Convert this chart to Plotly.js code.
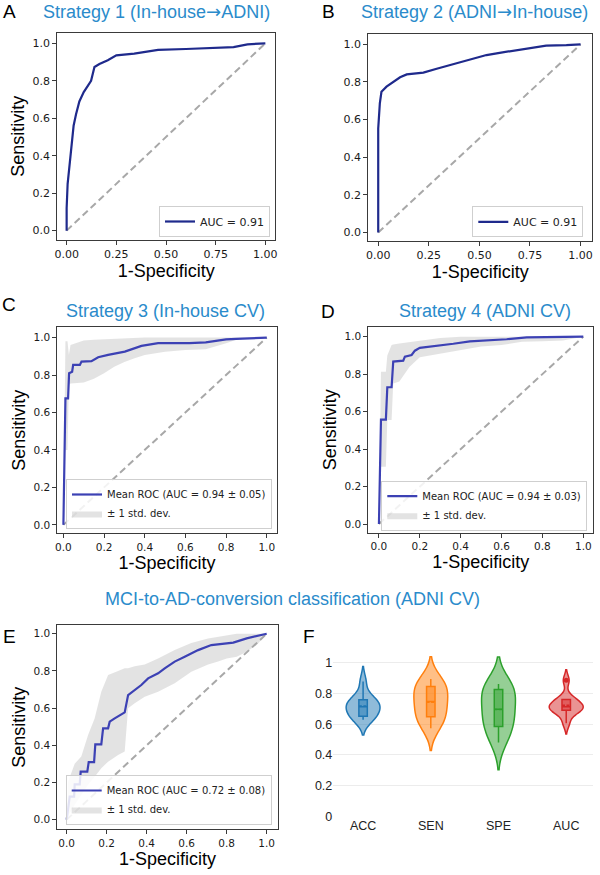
<!DOCTYPE html>
<html lang="en">
<head>
<meta charset="UTF-8" />
<title>ROC curves and metric violins</title>
<script src="https://cdn.plot.ly/plotly-3.0.1.min.js"></script>
<style>html,body{margin:0;padding:0;background:#fff;}</style>
</head>
<body>
<div id="chart" style="width:600px;height:875px;"></div>
<script>
// chance diagonal
const chance = [0, 1];

// A: Strategy 1 (In-house -> ADNI)
const fprA = [0, 0, 0.005, 0.01, 0.014, 0.022, 0.03, 0.035, 0.047, 0.064, 0.086, 0.106, 0.123, 0.14, 0.165, 0.207, 0.25, 0.34, 0.46, 0.6, 0.7, 0.84, 0.91, 1];
const tprA = [0, 0.12, 0.25, 0.3, 0.33, 0.42, 0.5, 0.56, 0.62, 0.69, 0.74, 0.77, 0.8, 0.874, 0.89, 0.91, 0.936, 0.945, 0.965, 0.97, 0.975, 0.98, 0.995, 1];

// B: Strategy 2 (ADNI -> In-house)
const fprB = [0, 0, 0.008, 0.016, 0.041, 0.074, 0.108, 0.141, 0.223, 0.289, 0.355, 0.45, 0.535, 0.6, 0.7, 0.766, 0.83, 0.93, 1];
const tprB = [0, 0.553, 0.686, 0.748, 0.775, 0.8, 0.825, 0.84, 0.85, 0.87, 0.89, 0.92, 0.943, 0.955, 0.97, 0.982, 0.993, 0.996, 1];

// C: Strategy 3 (In-house CV)
const fprC = [0, 0.01, 0.023, 0.028, 0.043, 0.048, 0.081, 0.089, 0.138, 0.171, 0.22, 0.302, 0.384, 0.466, 0.55, 0.62, 0.7, 0.75, 0.8, 0.85, 0.9, 0.95, 1];
const tprC = [0, 0.676, 0.676, 0.81, 0.818, 0.854, 0.854, 0.872, 0.874, 0.895, 0.908, 0.925, 0.956, 0.97, 0.97, 0.97, 0.975, 0.984, 0.99, 0.993, 0.996, 1, 1];
const bandFprC = [0, 0.01, 0.02, 0.027, 0.035, 0.06, 0.1, 0.15, 0.2, 0.25, 0.3, 0.35, 0.4, 0.5, 0.6, 0.7, 0.75, 0.8, 0.85, 0.9, 1];
const upperC = [0, 0.98, 0.98, 0.908, 0.96, 0.97, 0.985, 0.988, 0.99, 0.992, 0.995, 0.998, 1, 1, 1, 1, 1, 1, 1, 1, 1];
const lowerC = [0, 0.4, 0.4, 0.748, 0.755, 0.758, 0.76, 0.78, 0.81, 0.845, 0.87, 0.89, 0.907, 0.925, 0.934, 0.938, 0.952, 0.97, 0.988, 0.996, 1];

// D: Strategy 4 (ADNI CV)
const fprD = [0, 0.01, 0.034, 0.041, 0.062, 0.07, 0.119, 0.127, 0.16, 0.176, 0.2, 0.282, 0.364, 0.445, 0.527, 0.625, 0.723, 0.918, 1];
const tprD = [0, 0.557, 0.557, 0.73, 0.73, 0.867, 0.872, 0.893, 0.902, 0.925, 0.94, 0.95, 0.962, 0.975, 0.979, 0.986, 0.996, 0.996, 1];
const bandFprD = [0, 0.01, 0.034, 0.041, 0.062, 0.07, 0.1, 0.15, 0.2, 0.3, 0.4, 0.5, 0.6, 0.7, 0.8, 0.9, 1];
const upperD = [0, 0.813, 0.813, 0.9, 0.955, 0.958, 0.964, 0.972, 0.98, 0.993, 1, 1, 1, 1, 1, 1, 1];
const lowerD = [0, 0.306, 0.306, 0.555, 0.555, 0.75, 0.76, 0.84, 0.89, 0.91, 0.93, 0.947, 0.955, 0.973, 0.975, 0.98, 1];

// E: MCI-to-AD conversion (ADNI CV)
const fprE = [0, 0.015, 0.037, 0.04, 0.065, 0.07, 0.103, 0.11, 0.137, 0.143, 0.173, 0.182, 0.207, 0.215, 0.24, 0.265, 0.29, 0.307, 0.34, 0.373, 0.407, 0.457, 0.49, 0.54, 0.59, 0.657, 0.723, 0.833, 0.9, 0.95, 1];
const tprE = [0, 0.124, 0.124, 0.19, 0.19, 0.258, 0.258, 0.309, 0.309, 0.405, 0.405, 0.491, 0.491, 0.527, 0.545, 0.563, 0.577, 0.67, 0.697, 0.724, 0.76, 0.787, 0.814, 0.85, 0.876, 0.912, 0.939, 0.952, 0.975, 0.987, 1];
const bandFprE = [0, 0.007, 0.04, 0.073, 0.107, 0.14, 0.173, 0.207, 0.257, 0.29, 0.307, 0.34, 0.39, 0.457, 0.54, 0.623, 0.707, 0.757, 0.8, 0.85, 0.9, 0.95, 1];
const upperE = [0, 0.204, 0.3, 0.34, 0.455, 0.545, 0.688, 0.778, 0.8, 0.814, 0.815, 0.825, 0.835, 0.867, 0.912, 0.95, 0.975, 0.985, 0.993, 1, 1, 1, 1];
const lowerE = [0, 0.02, 0.08, 0.133, 0.187, 0.231, 0.276, 0.312, 0.348, 0.366, 0.599, 0.626, 0.661, 0.688, 0.733, 0.796, 0.835, 0.85, 0.867, 0.876, 0.903, 0.94, 1];

// F: fold metrics
const metrics = ['ACC', 'SEN', 'SPE', 'AUC'];
const accFolds = [0.628, 0.645, 0.652, 0.69, 0.705, 0.722, 0.74, 0.758, 0.765, 0.877];
const senFolds = [0.574, 0.62, 0.648, 0.69, 0.73, 0.765, 0.8, 0.845, 0.86, 0.894];
const speFolds = [0.48, 0.55, 0.585, 0.64, 0.68, 0.715, 0.78, 0.825, 0.845, 0.861];
const aucFolds = [0.606, 0.672, 0.69, 0.7, 0.71, 0.715, 0.73, 0.76, 0.765, 0.885];
const metricColors = ['#1f77b4', '#ff7f0e', '#2ca02c', '#d62728'];

const tickFont = 'DejaVu Sans, sans-serif';
const labelFont = 'Liberation Sans, Arial, sans-serif';
const titleBlue = '#2a8bcb';
const navy = '#1f2a8c';
const meanBlue = '#3c41b4';
const arrow = '<span style="font-family:DejaVu Sans">→</span>';

function diag(xa, ya) {
  return {x: chance, y: chance, xaxis: xa, yaxis: ya, mode: 'lines',
    line: {color: '#a8a8a8', width: 2, dash: '7px,4px'}, showlegend: false, hoverinfo: 'skip'};
}

function band(xa, ya, bx, lo, hi, leg) {
  return [
    {x: bx, y: lo, xaxis: xa, yaxis: ya, mode: 'lines', line: {width: 0, color: 'rgba(0,0,0,0)'},
      showlegend: false, hoverinfo: 'skip'},
    {x: bx, y: hi, xaxis: xa, yaxis: ya, mode: 'lines', fill: 'tonexty',
      fillcolor: 'rgba(128,128,128,0.22)', line: {width: 0, color: 'rgba(0,0,0,0)'},
      name: '± 1 std. dev.', legend: leg}
  ];
}

function curve(xa, ya, x, y, color, name, leg) {
  return {x, y, xaxis: xa, yaxis: ya, mode: 'lines', line: {color, width: 2.2}, name, legend: leg};
}

const data = [
  diag('x', 'y'),
  curve('x', 'y', fprA, tprA, navy, 'AUC = 0.91', 'legend'),
  diag('x2', 'y2'),
  curve('x2', 'y2', fprB, tprB, navy, 'AUC = 0.91', 'legend2'),
  ...band('x3', 'y3', bandFprC, lowerC, upperC, 'legend3'),
  diag('x3', 'y3'),
  curve('x3', 'y3', fprC, tprC, meanBlue, 'Mean ROC (AUC = 0.94 ± 0.05)', 'legend3'),
  ...band('x4', 'y4', bandFprD, lowerD, upperD, 'legend4'),
  diag('x4', 'y4'),
  curve('x4', 'y4', fprD, tprD, meanBlue, 'Mean ROC (AUC = 0.94 ± 0.03)', 'legend4'),
  ...band('x5', 'y5', bandFprE, lowerE, upperE, 'legend5'),
  diag('x5', 'y5'),
  curve('x5', 'y5', fprE, tprE, meanBlue, 'Mean ROC (AUC = 0.72 ± 0.08)', 'legend5')
];

[accFolds, senFolds, speFolds, aucFolds].forEach((vals, i) => {
  data.push({
    type: 'violin', y: vals, name: metrics[i], xaxis: 'x6', yaxis: 'y6',
    width: 0.5, line: {color: metricColors[i], width: 1.5},
    box: {visible: true, width: 0.25}, meanline: {visible: true},
    points: 'outliers', pointpos: 0, jitter: 0, marker: {size: 5, color: metricColors[i]},
    showlegend: false
  });
});

function frameAxis(domain, range, dtick, fmt, size, title, standoff, anchor) {
  return {
    domain, range, dtick, tick0: 0, tickformat: fmt, anchor,
    showline: true, mirror: true, linecolor: '#3a3a3a', linewidth: 1,
    ticks: 'outside', ticklen: 4, tickcolor: '#3a3a3a', tickwidth: 1,
    showgrid: false, zeroline: false,
    tickfont: {family: tickFont, size, color: '#1a1a1a'},
    title: {text: title, font: {family: labelFont, size: 18, color: '#000'}, standoff}
  };
}

function legendBox(x, y, size) {
  return {x, y, xanchor: 'right', yanchor: 'bottom', bgcolor: 'rgba(255,255,255,0.85)',
    bordercolor: '#cfcfcf', borderwidth: 1, itemwidth: 30, tracegroupgap: 0,
    traceorder: 'reversed', font: {family: tickFont, size, color: '#222'}};
}

const W = 600, H = 875;
const px = v => v / W;
const py = v => 1 - v / H;

const annotations = [];
function label(text, x, y, size, color) {
  annotations.push({text, x: px(x), y: py(y), xref: 'paper', yref: 'paper', showarrow: false,
    xanchor: 'center', yanchor: 'middle', font: {family: labelFont, size, color}});
}
label('A', 9, 12, 19, '#000');
label('B', 328, 12, 19, '#000');
label('C', 9, 305, 19, '#000');
label('D', 328, 311, 19, '#000');
label('E', 9, 636, 19, '#000');
label('F', 309, 636, 19, '#000');
label('Strategy 1 (In-house' + arrow + 'ADNI)', 156, 12, 18, titleBlue);
label('Strategy 2 (ADNI' + arrow + 'In-house)', 474, 12, 18, titleBlue);
label('Strategy 3 (In-house CV)', 165, 311, 18, titleBlue);
label('Strategy 4 (ADNI CV)', 485, 311, 18, titleBlue);
label('MCI-to-AD-conversion classification (ADNI CV)', 292, 599, 18, titleBlue);

const layout = {
  width: W, height: H, margin: {l: 0, r: 0, t: 0, b: 0},
  paper_bgcolor: '#fff', plot_bgcolor: '#fff',
  violinmode: 'overlay',
  xaxis: frameAxis([px(57.3), px(275.3)], [-0.047, 1.05], 0.25, '.2f', 11, '1-Specificity', 4, 'y'),
  yaxis: frameAxis([py(240), py(32.7)], [-0.05, 1.057], 0.2, '.1f', 11, 'Sensitivity', 3, 'x'),
  xaxis2: frameAxis([px(368.3), px(592.3)], [-0.049, 1.058], 0.25, '.2f', 11, '1-Specificity', 4, 'y2'),
  yaxis2: frameAxis([py(240.7), py(34)], [-0.044, 1.055], 0.2, '.1f', 11, '', 3, 'x2'),
  xaxis3: frameAxis([px(57.3), px(276.7)], [-0.03, 1.049], 0.2, '.1f', 10.5, '1-Specificity', 4, 'y3'),
  yaxis3: frameAxis([py(533.3), py(327.3)], [-0.045, 1.055], 0.2, '.1f', 10.5, 'Sensitivity', 3, 'x3'),
  xaxis4: frameAxis([px(368.3), px(593.3)], [-0.052, 1.049], 0.2, '.1f', 10.5, '1-Specificity', 4, 'y4'),
  yaxis4: frameAxis([py(532.7), py(326.7)], [-0.046, 1.053], 0.2, '.1f', 10.5, 'Sensitivity', 3, 'x4'),
  xaxis5: frameAxis([px(57.3), px(277.7)], [-0.047, 1.055], 0.2, '.1f', 10.5, '1-Specificity', 4, 'y5'),
  yaxis5: frameAxis([py(829.3), py(625)], [-0.052, 1.047], 0.2, '.1f', 10.5, 'Sensitivity', 3, 'x5'),
  xaxis6: {domain: [px(333.3), px(593.3)], range: [-0.44, 3.4], type: 'category', anchor: 'y6',
    showgrid: false, showline: false, zeroline: false, ticks: '',
    tickfont: {family: labelFont, size: 12.5, color: '#222'}},
  yaxis6: {domain: [py(816.4), py(647.3)], range: [0, 1.1], dtick: 0.2, tick0: 0, anchor: 'x6',
    showgrid: true, gridcolor: '#ececec', gridwidth: 1, showline: false, zeroline: false, ticks: '',
    tickfont: {family: labelFont, size: 12.5, color: '#222'}},
  legend: legendBox(px(270), py(237), 11),
  legend2: legendBox(px(583.3), py(237.3), 11),
  legend3: legendBox(px(272), py(529), 10),
  legend4: legendBox(px(587.3), py(530.7), 10),
  legend5: legendBox(px(271.7), py(825), 10),
  annotations
};

Plotly.newPlot('chart', data, layout, {displayModeBar: false, staticPlot: true});
</script>
</body>
</html>
